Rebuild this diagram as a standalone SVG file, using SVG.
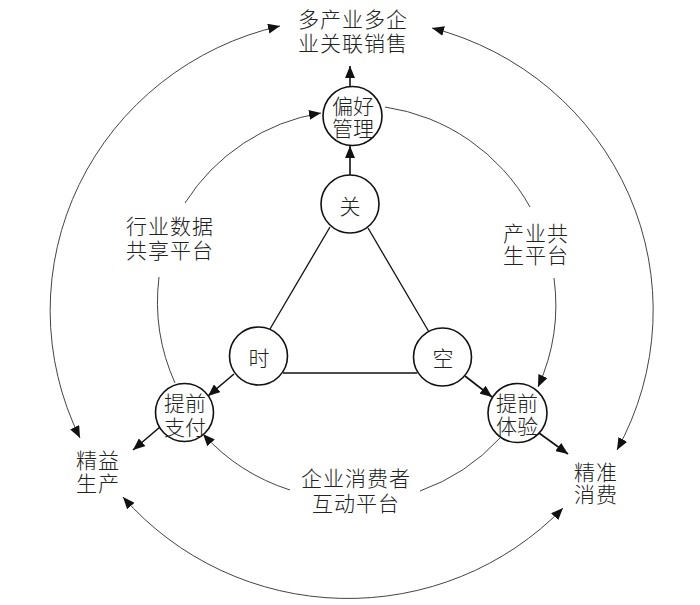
<svg xmlns="http://www.w3.org/2000/svg" width="700" height="605" viewBox="0 0 700 605">
<style>
  text { font-family: "Noto Sans CJK SC", "Noto Sans", sans-serif; font-weight: 300; font-size: 21px; fill: #222; text-anchor: middle; letter-spacing: 1px; }
  .ct { font-size: 21px; letter-spacing: 0px; }
  .node { fill: #fff; stroke: #111; stroke-width: 1.6; }
  .tri { stroke: #111; stroke-width: 1.3; fill: none; }
  .arc { stroke: #444; stroke-width: 1; fill: none; }
  .arr { stroke: #111; stroke-width: 1.6; fill: none; }
</style>
<defs>
  <marker id="ah" viewBox="0 0 12 10" refX="12" refY="5" markerWidth="12" markerHeight="10" markerUnits="userSpaceOnUse" orient="auto-start-reverse">
    <path d="M0,0 L12,5 L0,10 z" fill="#111"/>
  </marker>
</defs>
<rect width="700" height="605" fill="#fff"/>

<g id="connectors">
  <!-- outer arcs -->
  <path class="arc" d="M80,438 A297 292 0 0 1 280,26" marker-start="url(#ah)" marker-end="url(#ah)"/>
  <path class="arc" d="M432,28 A297 292 0 0 1 617,450" marker-start="url(#ah)" marker-end="url(#ah)"/>
  <path class="arc" d="M563,508 A297 292 0 0 1 123,497" marker-start="url(#ah)" marker-end="url(#ah)"/>
  <!-- inner arcs -->
  <path class="arc" d="M175,383 A199 199 0 0 1 159,277"/>
  <path class="arc" d="M185,203 A199 199 0 0 1 321,113" marker-end="url(#ah)"/>
  <path class="arc" d="M385,107 A199 199 0 0 1 530,207"/>
  <path class="arc" d="M554,278 A199 199 0 0 1 538,387" marker-end="url(#ah)"/>
  <path class="arc" d="M500,438 A199 199 0 0 1 420,491"/>
  <path class="arc" d="M290,490 A199 199 0 0 1 203,434" marker-end="url(#ah)"/>
  <!-- triangle -->
  <line class="tri" x1="330" y1="227" x2="270" y2="329"/>
  <line class="tri" x1="368" y1="228" x2="429" y2="332"/>
  <line class="tri" x1="283" y1="373" x2="417" y2="373"/>
  <!-- straight arrows -->
  <line class="arr" x1="350" y1="175" x2="350" y2="146" marker-end="url(#ah)"/>
  <line class="arr" x1="350" y1="87" x2="350" y2="66" marker-end="url(#ah)"/>
  <line class="arr" x1="234" y1="374" x2="208" y2="396" marker-end="url(#ah)"/>
  <line class="arr" x1="160" y1="427" x2="133" y2="450" marker-end="url(#ah)"/>
  <line class="arr" x1="465" y1="376" x2="492" y2="397" marker-end="url(#ah)"/>
  <line class="arr" x1="539" y1="433" x2="568" y2="454" marker-end="url(#ah)"/>
</g>

<g id="sales">
  <text><tspan x="353" y="26.5">多产业多企</tspan><tspan x="353" y="51">业关联销售</tspan></text>
</g>
<g id="preference">
  <circle class="node" cx="352.5" cy="116" r="29.5"/>
  <text class="ct"><tspan x="353" y="113.5">偏好</tspan><tspan x="353" y="135.5">管理</tspan></text>
</g>
<g id="guan">
  <circle class="node" cx="350" cy="204" r="29"/>
  <text class="ct" x="350" y="213.5">关</text>
</g>
<g id="shi">
  <circle class="node" cx="258.5" cy="356" r="29"/>
  <text class="ct" x="259" y="365.5">时</text>
</g>
<g id="kong">
  <circle class="node" cx="442.5" cy="357" r="29"/>
  <text class="ct" x="443" y="366">空</text>
</g>
<g id="prepay">
  <circle class="node" cx="184.5" cy="412.5" r="29"/>
  <text class="ct"><tspan x="185" y="410.5">提前</tspan><tspan x="185" y="435">支付</tspan></text>
</g>
<g id="preexp">
  <circle class="node" cx="517.5" cy="413" r="29.5"/>
  <text class="ct"><tspan x="517" y="411">提前</tspan><tspan x="517" y="433.5">体验</tspan></text>
</g>
<g id="lean">
  <text><tspan x="98" y="468">精益</tspan><tspan x="98" y="490.5">生产</tspan></text>
</g>
<g id="precise">
  <text><tspan x="596" y="479.5">精准</tspan><tspan x="596" y="501.5">消费</tspan></text>
</g>
<g id="industry-data">
  <text><tspan x="170" y="233.5">行业数据</tspan><tspan x="170" y="258">共享平台</tspan></text>
</g>
<g id="symbiosis">
  <text><tspan x="536" y="240.5">产业共</tspan><tspan x="536" y="263">生平台</tspan></text>
</g>
<g id="interaction">
  <text><tspan x="356" y="485.5">企业消费者</tspan><tspan x="356" y="510.5">互动平台</tspan></text>
</g>
</svg>
